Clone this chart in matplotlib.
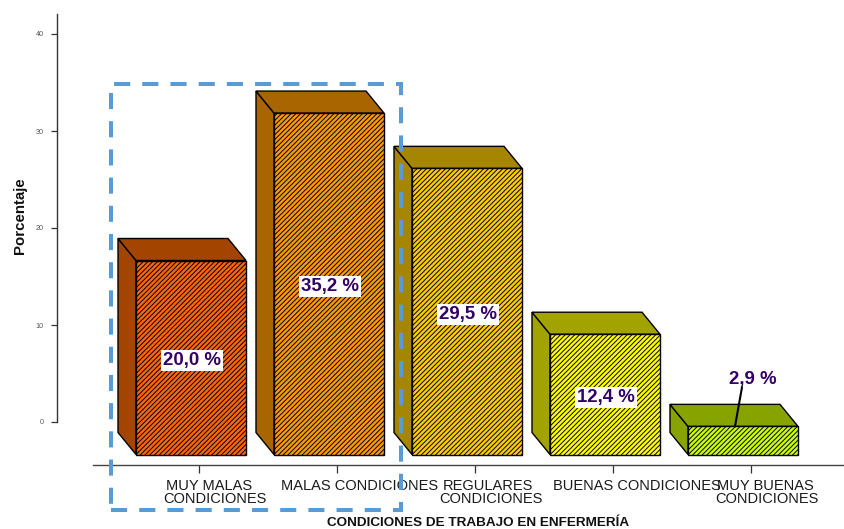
import matplotlib
matplotlib.use("Agg")
import matplotlib.pyplot as plt
from matplotlib.patches import Polygon, Rectangle

W, H = 845, 529

categorias = ["MUY MALAS\nCONDICIONES", "MALAS CONDICIONES", "REGULARES\nCONDICIONES",
              "BUENAS CONDICIONES", "MUY BUENAS\nCONDICIONES"]
porcentajes = [20.0, 35.2, 29.5, 12.4, 2.9]
etiquetas = ["20,0 %", "35,2 %", "29,5 %", "12,4 %", "2,9 %"]
ticks_y = [0, 10, 20, 30, 40]

# colores de cada barra: frente, tapa y lateral
frente = ["#FF6600", "#FF9900", "#FFCC00", "#FFFF00", "#CCFF00"]
tapa = ["#A34500", "#A86500", "#A68500", "#A3A300", "#86A300"]

plt.rcParams["font.family"] = ["Liberation Sans", "DejaVu Sans"]
plt.rcParams["hatch.linewidth"] = 0.7
plt.rcParams["hatch.color"] = "black"

fig = plt.figure(figsize=(W / 100, H / 100), dpi=100)

# ejes: el 0 cae en y=422 px y cada categoria ocupa 138 px
px_x = 138.0
px_y = 9.7
izq, der, arriba, abajo = 57, 845, 14, 465
ax = fig.add_axes([izq / W, 1 - abajo / H, (der - izq) / W, (abajo - arriba) / H])
ax.set_xlim((izq - 199) / px_x, (der - 199) / px_x)
ax.set_ylim((422 - abajo) / px_y, (422 - arriba) / px_y)

base = (422 - 454.5) / px_y
ancho = 110 / px_x
centro = -8 / px_x
dx = -18 / px_x
dy = 22 / px_y

for i, v in enumerate(porcentajes):
    x0 = i + centro - ancho / 2
    x1 = x0 + ancho
    y1 = base + v
    # lateral y tapa de la caja
    ax.add_patch(Polygon([(x0, base), (x0, y1), (x0 + dx, y1 + dy), (x0 + dx, base + dy)],
                         closed=True, fc=tapa[i], ec="black", lw=1.0, zorder=2))
    ax.add_patch(Polygon([(x0, y1), (x1, y1), (x1 + dx, y1 + dy), (x0 + dx, y1 + dy)],
                         closed=True, fc=tapa[i], ec="black", lw=1.0, zorder=2))

ax.bar([i + centro for i in range(len(porcentajes))], porcentajes, width=ancho, bottom=base,
       color=frente, edgecolor="black", linewidth=1.0, hatch="///////", zorder=3)

for i, (v, txt) in enumerate(zip(porcentajes, etiquetas)):
    if i < 4:
        ax.annotate(txt, xy=(i + centro, base + v / 2), xytext=(1, -3), textcoords="offset pixels",
                    ha="center", va="center", fontsize=13.4, fontweight="bold",
                    color="#330066", zorder=5, bbox=dict(fc="white", ec="none", pad=1.5))
    else:
        # barra muy baja: etiqueta por encima con linea guia
        ax.annotate(txt, xy=(i - 0.116, base + v), xytext=(18, 47), textcoords="offset pixels",
                    ha="center", va="center", fontsize=13.4, fontweight="bold",
                    color="#330066", zorder=5)
        ax.annotate("", xy=(i - 0.116, base + v), xytext=(7, 39), textcoords="offset pixels",
                    arrowprops=dict(arrowstyle="-", color="black", lw=1.5, shrinkA=0, shrinkB=0),
                    zorder=5)

for s in ["top", "right"]:
    ax.spines[s].set_visible(False)
ax.spines["left"].set_bounds(0, (422 - arriba) / px_y)
ax.spines["left"].set_linewidth(1.0)
ax.spines["left"].set_color("#333333")
ax.spines["bottom"].set_bounds((93 - 199) / px_x, (der - 199) / px_x)
ax.spines["bottom"].set_linewidth(1.0)
ax.spines["bottom"].set_color("#444444")

ax.set_yticks(ticks_y)
ax.tick_params(axis="y", length=4.5, width=0.9, color="#333333", labelsize=5.2,
               labelcolor="#555555", pad=5)
ax.set_xticks(range(len(categorias)))
ax.set_xticklabels([])
ax.tick_params(axis="x", length=6, width=0.9, color="#333333")

# nombres de categoria: cada linea con su propio centrado
desv = [(10, 16), (22.5, 0), (13, 16), (24, 0), (14, 16)]
for i, cat in enumerate(categorias):
    lineas = cat.split("\n")
    for j, linea in enumerate(lineas):
        off = desv[i][j if len(lineas) == 2 else 0]
        ax.annotate(linea, xy=(i, 0), xycoords=ax.get_xaxis_transform(),
                    xytext=(off, -21 - 13 * j), textcoords="offset pixels",
                    ha="center", va="center", fontsize=10.5, color="#1a1a1a", annotation_clip=False)

fig.text(20 / W, 1 - 216 / H, "Porcentaje", rotation=90, ha="center", va="center",
         fontsize=10.8, fontweight="bold", color="#111111")
fig.text(478 / W, 1 - 526 / H, "CONDICIONES DE TRABAJO EN ENFERMERÍA", ha="center", va="baseline",
         fontsize=9.7, fontweight="bold", color="#111111")

# recuadro discontinuo sobre las dos primeras categorias
fig.add_artist(Rectangle((111 / W, 1 - 510 / H), 290 / W, 426 / H, transform=fig.transFigure,
                         fill=False, ec="#5B9BD5", lw=2.9, linestyle=(0, (4, 3)), zorder=10))

fig.savefig("out.png", dpi=100)
